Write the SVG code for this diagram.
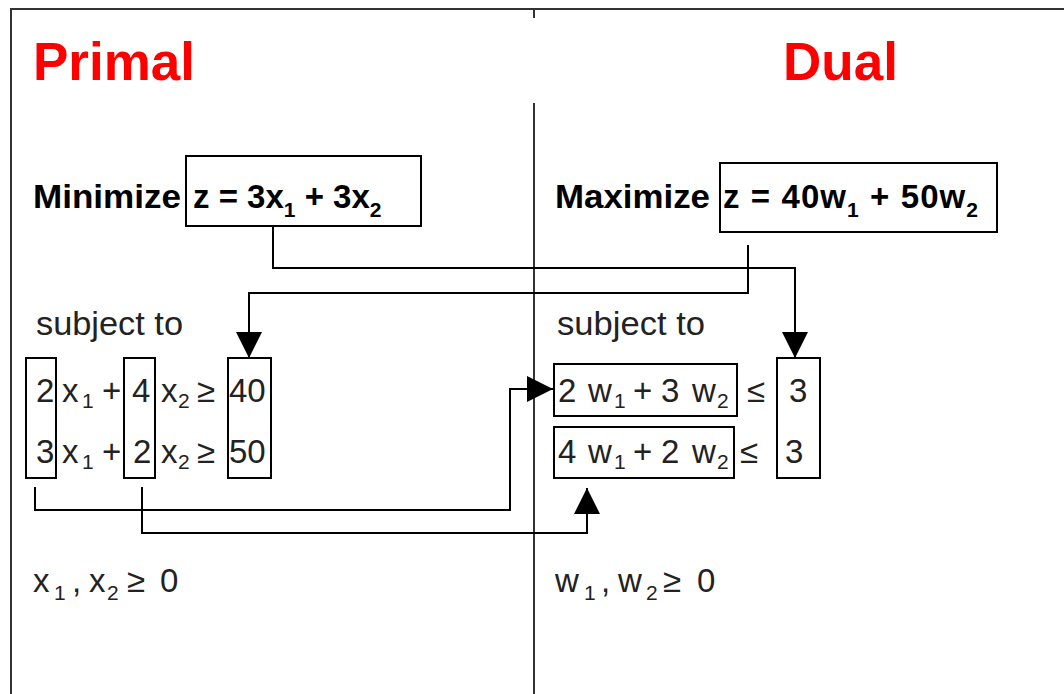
<svg xmlns="http://www.w3.org/2000/svg" width="1064" height="694" viewBox="0 0 1064 694">
<defs>
<marker id="ah" viewBox="0 0 26 26" refX="26" refY="13" markerWidth="26" markerHeight="26" markerUnits="userSpaceOnUse" orient="auto">
<path d="M0,0 L26,13 L0,26 Z" fill="#000"/>
</marker>
</defs>
<style>
.frame{fill:none;stroke:#333;stroke-width:2}
.box{fill:none;stroke:#000;stroke-width:2}
.conn{fill:none;stroke:#000;stroke-width:2}
.title{font-family:"Liberation Sans",Arial,sans-serif;font-weight:bold;font-size:53px;fill:#ff0000}
.lbl{font-family:"Liberation Sans",Arial,sans-serif;font-weight:bold;font-size:34px;fill:#000}
.t{font-family:"Liberation Sans",Arial,sans-serif;font-size:33px;fill:#222}
.tb{font-family:"Liberation Sans",Arial,sans-serif;font-weight:bold;font-size:33px;fill:#000}
.sub{font-size:21px}
</style>
<rect width="1064" height="694" fill="#fff"/>
<g id="frame">
<path class="frame" d="M11,694 V9 H1064"/>
<path class="frame" d="M534,9 V18 M534,103 V694"/>
</g>
<g id="primal-title"><text class="title" x="33" y="80">Primal</text></g>
<g id="dual-title"><text class="title" x="783" y="80">Dual</text></g>
<g id="primal-objective">
<text class="lbl" x="33" y="208" textLength="148" lengthAdjust="spacingAndGlyphs">Minimize</text>
<rect class="box" x="186" y="156" width="235" height="70"/>
<text class="tb" x="193" y="208">z = 3x<tspan class="sub" dy="9">1</tspan><tspan dy="-9"> + 3x</tspan><tspan class="sub" dy="9">2</tspan></text>
</g>
<g id="dual-objective">
<text class="lbl" x="555" y="208" textLength="155" lengthAdjust="spacingAndGlyphs">Maximize</text>
<rect class="box" x="720" y="163" width="277" height="69"/>
<text class="tb" x="723" y="208" textLength="255" lengthAdjust="spacing">z = 40w<tspan class="sub" dy="9">1</tspan><tspan dy="-9"> + 50w</tspan><tspan class="sub" dy="9">2</tspan></text>
</g>
<g id="primal-subject"><text class="t" x="36" y="335" textLength="147" lengthAdjust="spacingAndGlyphs">subject to</text></g>
<g id="dual-subject"><text class="t" x="557" y="335" textLength="148" lengthAdjust="spacingAndGlyphs">subject to</text></g>
<g id="primal-constraints">
<rect class="box" x="26" y="358" width="30" height="120"/>
<rect class="box" x="124" y="358" width="31" height="120"/>
<rect class="box" x="228" y="358" width="43" height="120"/>
<text class="t"><tspan x="36" y="402">2</tspan><tspan x="62" y="402">x</tspan><tspan class="sub" x="82" y="408">1</tspan><tspan x="102" y="402">+</tspan><tspan x="132" y="402">4</tspan><tspan x="161" y="402">x</tspan><tspan class="sub" x="178" y="408">2</tspan><tspan x="197" y="402">≥</tspan><tspan x="229" y="402">40</tspan></text>
<text class="t"><tspan x="36" y="463">3</tspan><tspan x="62" y="463">x</tspan><tspan class="sub" x="82" y="469">1</tspan><tspan x="102" y="463">+</tspan><tspan x="133" y="463">2</tspan><tspan x="161" y="463">x</tspan><tspan class="sub" x="178" y="469">2</tspan><tspan x="197" y="463">≥</tspan><tspan x="229" y="463">50</tspan></text>
</g>
<g id="dual-constraints">
<rect class="box" x="554" y="364" width="183" height="52"/>
<rect class="box" x="554" y="427" width="180" height="51"/>
<rect class="box" x="777" y="358" width="43" height="120"/>
<text class="t"><tspan x="558" y="402">2</tspan><tspan x="588" y="402">w</tspan><tspan class="sub" x="614" y="408">1</tspan><tspan x="633" y="402">+</tspan><tspan x="661" y="402">3</tspan><tspan x="692" y="402">w</tspan><tspan class="sub" x="717" y="408">2</tspan><tspan x="747" y="402">≤</tspan><tspan x="789" y="402">3</tspan></text>
<text class="t"><tspan x="558" y="463">4</tspan><tspan x="588" y="463">w</tspan><tspan class="sub" x="614" y="469">1</tspan><tspan x="633" y="463">+</tspan><tspan x="661" y="463">2</tspan><tspan x="692" y="463">w</tspan><tspan class="sub" x="717" y="469">2</tspan><tspan x="740" y="463">≤</tspan><tspan x="785" y="463">3</tspan></text>
</g>
<g id="primal-nonneg">
<text class="t"><tspan x="33" y="592">x</tspan><tspan class="sub" x="54" y="600">1</tspan><tspan x="72" y="592">,</tspan><tspan x="89" y="592">x</tspan><tspan class="sub" x="107" y="600">2</tspan><tspan x="127" y="592">≥</tspan><tspan x="160" y="592">0</tspan></text>
</g>
<g id="dual-nonneg">
<text class="t"><tspan x="555" y="592">w</tspan><tspan class="sub" x="584" y="600">1</tspan><tspan x="601" y="592">,</tspan><tspan x="618" y="592">w</tspan><tspan class="sub" x="646" y="600">2</tspan><tspan x="663" y="592">≥</tspan><tspan x="697" y="592">0</tspan></text>
</g>
<g id="connectors">
<path class="conn" d="M273,226 V268 H795 V358" marker-end="url(#ah)"/>
<path class="conn" d="M748,245 V293 H249 V358" marker-end="url(#ah)"/>
<path class="conn" d="M35,487 V510 H510 V389 H553" marker-end="url(#ah)"/>
<path class="conn" d="M142,487 V533 H587 V488" marker-end="url(#ah)"/>
</g>
</svg>
